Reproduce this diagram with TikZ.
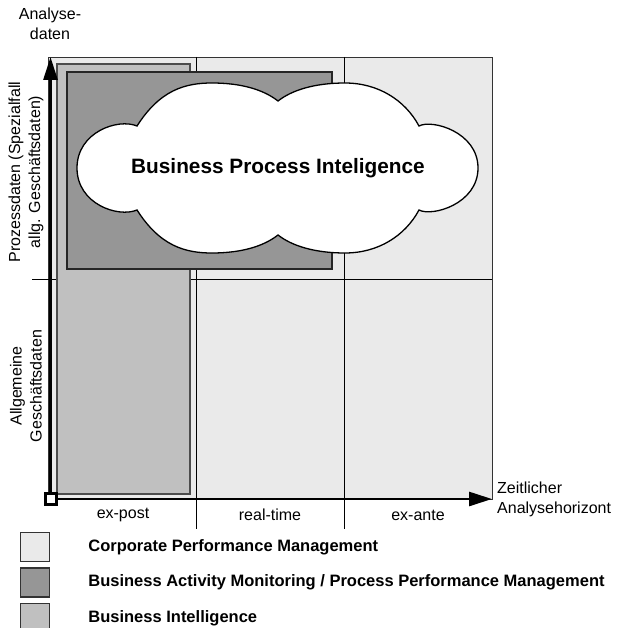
\documentclass[tikz,border=0pt]{standalone}
\usepackage{fontspec}
\setmainfont{Liberation Sans}
\usepackage{xcolor}
\usetikzlibrary{arrows.meta}
\usetikzlibrary{positioning}

\definecolor{cpmgray}{HTML}{EAEAEA}
\definecolor{bamgray}{HTML}{969696}
\definecolor{bigray}{HTML}{C0C0C0}

\begin{document}
\begin{tikzpicture}[x=1pt,y=-1pt,font=\fontsize{16}{20}\selectfont]
	\tikzstyle{lbl}=[inner sep=0pt,align=center]
	\tikzstyle{gridline}=[draw=black,line width=0.9pt]
	\tikzstyle{axis}=[line width=2.7pt,-{Triangle[length=23pt,width=14pt]}]
	\tikzstyle{key}=[draw=black!80,line width=1.4pt,minimum size=29pt,inner sep=0pt]
	\tikzstyle{keytxt}=[anchor=west,inner sep=0pt,font=\fontsize{16.5}{20}\selectfont\bfseries]
	\useasboundingbox (0,0) rectangle (619,628);

	% felder
	\draw[fill=cpmgray,draw=black!80,line width=0.8pt] (48,57) rectangle (492,499);
	\draw[gridline] (196,57) -- (196,529);
	\draw[gridline] (344,57) -- (344,529);
	\draw[gridline] (32,279) -- (492,279);
	\draw[fill=bigray,draw=black!70,line width=1.3pt] (57,64) rectangle (190,494);
	\draw[fill=bamgray,draw=black!85,line width=1.2pt] (67,72) rectangle (332,269);

	% wolke
	\draw[fill=white,line width=1.3pt]
		(137,126) .. controls (160,90) and (185,83) .. (212,83)
		.. controls (242,83) and (264,90) .. (278,101)
		.. controls (292,90) and (315,83) .. (345,83)
		.. controls (378,83) and (405,100) .. (419,126)
		.. controls (432,119) and (478,132) .. (478,168)
		.. controls (478,204) and (432,217) .. (419,210)
		.. controls (405,236) and (378,253) .. (345,253)
		.. controls (315,253) and (292,246) .. (278,235)
		.. controls (264,246) and (242,253) .. (212,253)
		.. controls (185,253) and (160,246) .. (137,210)
		.. controls (118,218) and (77,204) .. (77,168)
		.. controls (77,132) and (118,118) .. cycle;
	\node[font=\fontsize{20.8}{24}\selectfont\bfseries] (bpi) at (278,168) {Business Process Inteligence};

	% achsen
	\coordinate (o) at (50.5,499);
	\coordinate (ytip) at (50.5,57);
	\coordinate (xtip) at (492,499);
	\draw[axis] (o) -- (ytip);
	\draw[axis] (o) -- (xtip);
	\node[draw,fill=white,line width=3pt,minimum size=11pt,inner sep=0pt] (corner) at (o) {};

	\node[lbl] (ydata) at (50,24) {Analyse-\\daten};
	\node[lbl,anchor=west,align=left] (xtime) at (497,499) {Zeitlicher\\Analysehorizont};
	\node[lbl] (expost) at (123,515) {ex-post};
	\node[lbl] (realtime) at (270,515) {real-time};
	\node[lbl] (exante) at (418,515) {ex-ante};
	\node[lbl,rotate=90] (prozess) at (26,172) {Prozessdaten (Spezialfall\\allg. Geschäftsdaten)};
	\node[lbl,rotate=90] (allgemein) at (26,386) {Allgemeine\\Geschäftsdaten};

	% legende
	\node[key,fill=cpmgray] (k1) at (35,547) {};
	\node[key,fill=bamgray] (k2) [below=5pt of k1] {};
	\node[key,fill=bigray] (k3) [below=5pt of k2] {};
	\node[keytxt] (t1) [right=38pt of k1] {Corporate Performance Management};
	\node[keytxt] (t2) [right=38pt of k2] {Business Activity Monitoring / Process Performance Management};
	\node[keytxt] (t3) [right=38pt of k3] {Business Intelligence};
\end{tikzpicture}
\end{document}
